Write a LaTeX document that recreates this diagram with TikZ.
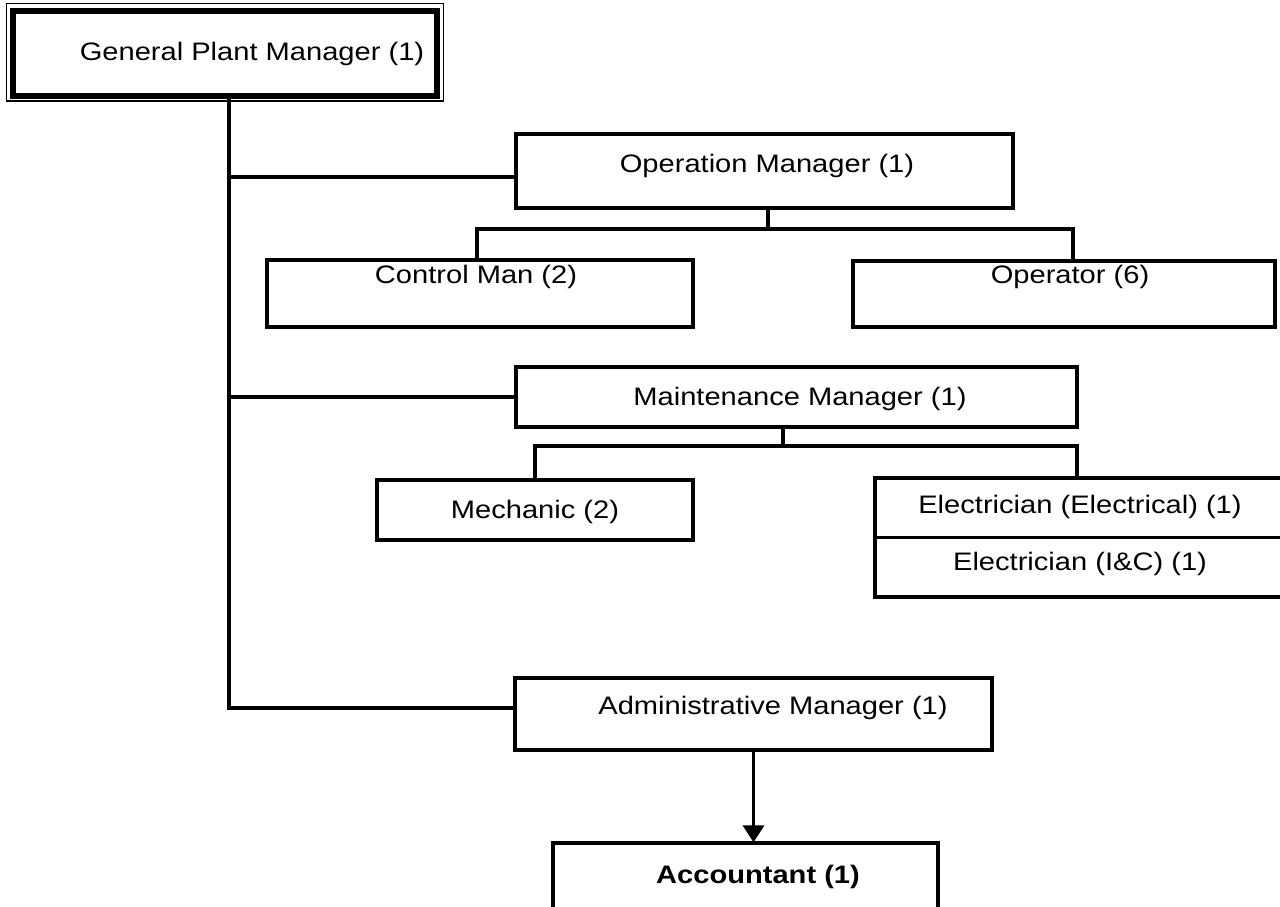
\documentclass[tikz,border=0pt]{standalone}
\usepackage{fontspec}
\setmainfont[FakeStretch=1.15]{Liberation Sans}
\usetikzlibrary{arrows.meta}
\begin{document}
\begin{tikzpicture}[x=1pt,y=-1pt,
  box/.style={draw,line width=3.3pt,rectangle,inner sep=0pt,minimum width=#1},
  lbl/.style={anchor=base,inner sep=0pt,font=\fontsize{25.3}{30}\selectfont},
  conn/.style={line width=3.3pt,line cap=rect,line join=miter}]
\clip (0,0) rectangle (1280,907);
\useasboundingbox (0,0) rectangle (1280,907);
% General Plant Manager
\node[draw,line width=1.6pt,inner sep=0pt,minimum width=437pt,minimum height=97.5pt] (gpmo) at (225,52.25) {};
\node[draw,line width=6pt,inner sep=0pt,minimum width=424pt,minimum height=84pt] (gpm) at (225,53.5) {};
\node[lbl] (tgpm) at (252,61) {General Plant Manager (1)};
% Boxes
\node[box=497pt,minimum height=74pt] (om) at (764.5,171) {};
\node[box=426pt,minimum height=67pt] (cm) at (480,293.5) {};
\node[box=422pt,minimum height=66pt] (op) at (1064,294) {};
\node[box=561pt,minimum height=60pt] (mm) at (796.5,397) {};
\node[box=316pt,minimum height=60pt] (mech) at (535,510) {};
\node[box=411pt,minimum height=119pt] (elec) at (1080.5,537.5) {};
\node[box=477pt,minimum height=72pt] (am) at (753.5,714) {};
\node[box=385pt,minimum height=77pt] (acc) at (745.5,881.5) {};
\draw[line width=3.3pt] (elec.west) -- (elec.east);
% Labels
\node[lbl] (tom) at (767,172) {Operation Manager (1)};
\node[lbl] (tcm) at (476,283) {Control Man (2)};
\node[lbl] (top) at (1070,283) {Operator (6)};
\node[lbl] (tmm) at (800,405) {Maintenance Manager (1)};
\node[lbl] (tmech) at (535,518) {Mechanic (2)};
\node[lbl] (te1) at (1080,513) {Electrician (Electrical) (1)};
\node[lbl] (te2) at (1080,570) {Electrician (I\&C) (1)};
\node[lbl] (tam) at (773,714) {Administrative Manager (1)};
\node[lbl] (tacc) at (758,883) {\bfseries Accountant (1)};
% Trunk
\coordinate (tk0) at (229,101);
\coordinate (tkom) at (229,177);
\coordinate (tkam) at (229,708);
\draw[conn] (tk0) -- (tkam) -- (tkam -| am.west);
\draw[conn] (tkom) -- (tkom -| om.west);
\draw[conn] (mm.west -| tk0) -- (mm.west);
% Operation branch
\coordinate (omb) at (768,229);
\draw[conn] ([xshift=3.5pt]om.south) -- (omb);
\draw[conn] ([xshift=-3pt]cm.north) |- (omb) -| ([xshift=9pt]op.north);
% Maintenance branch
\coordinate (mmb) at (783,446);
\draw[conn] (mmb |- mm.south) -- (mmb);
\draw[conn] (mech.north) |- (mmb) -| ([xshift=-3.5pt]elec.north);
% Admin to accountant
\draw[line width=3.3pt,-{Triangle[width=21pt 0,length=17pt 0]}] (am.south) -- ([yshift=-1pt]am.south |- acc.north);
\end{tikzpicture}
\end{document}
